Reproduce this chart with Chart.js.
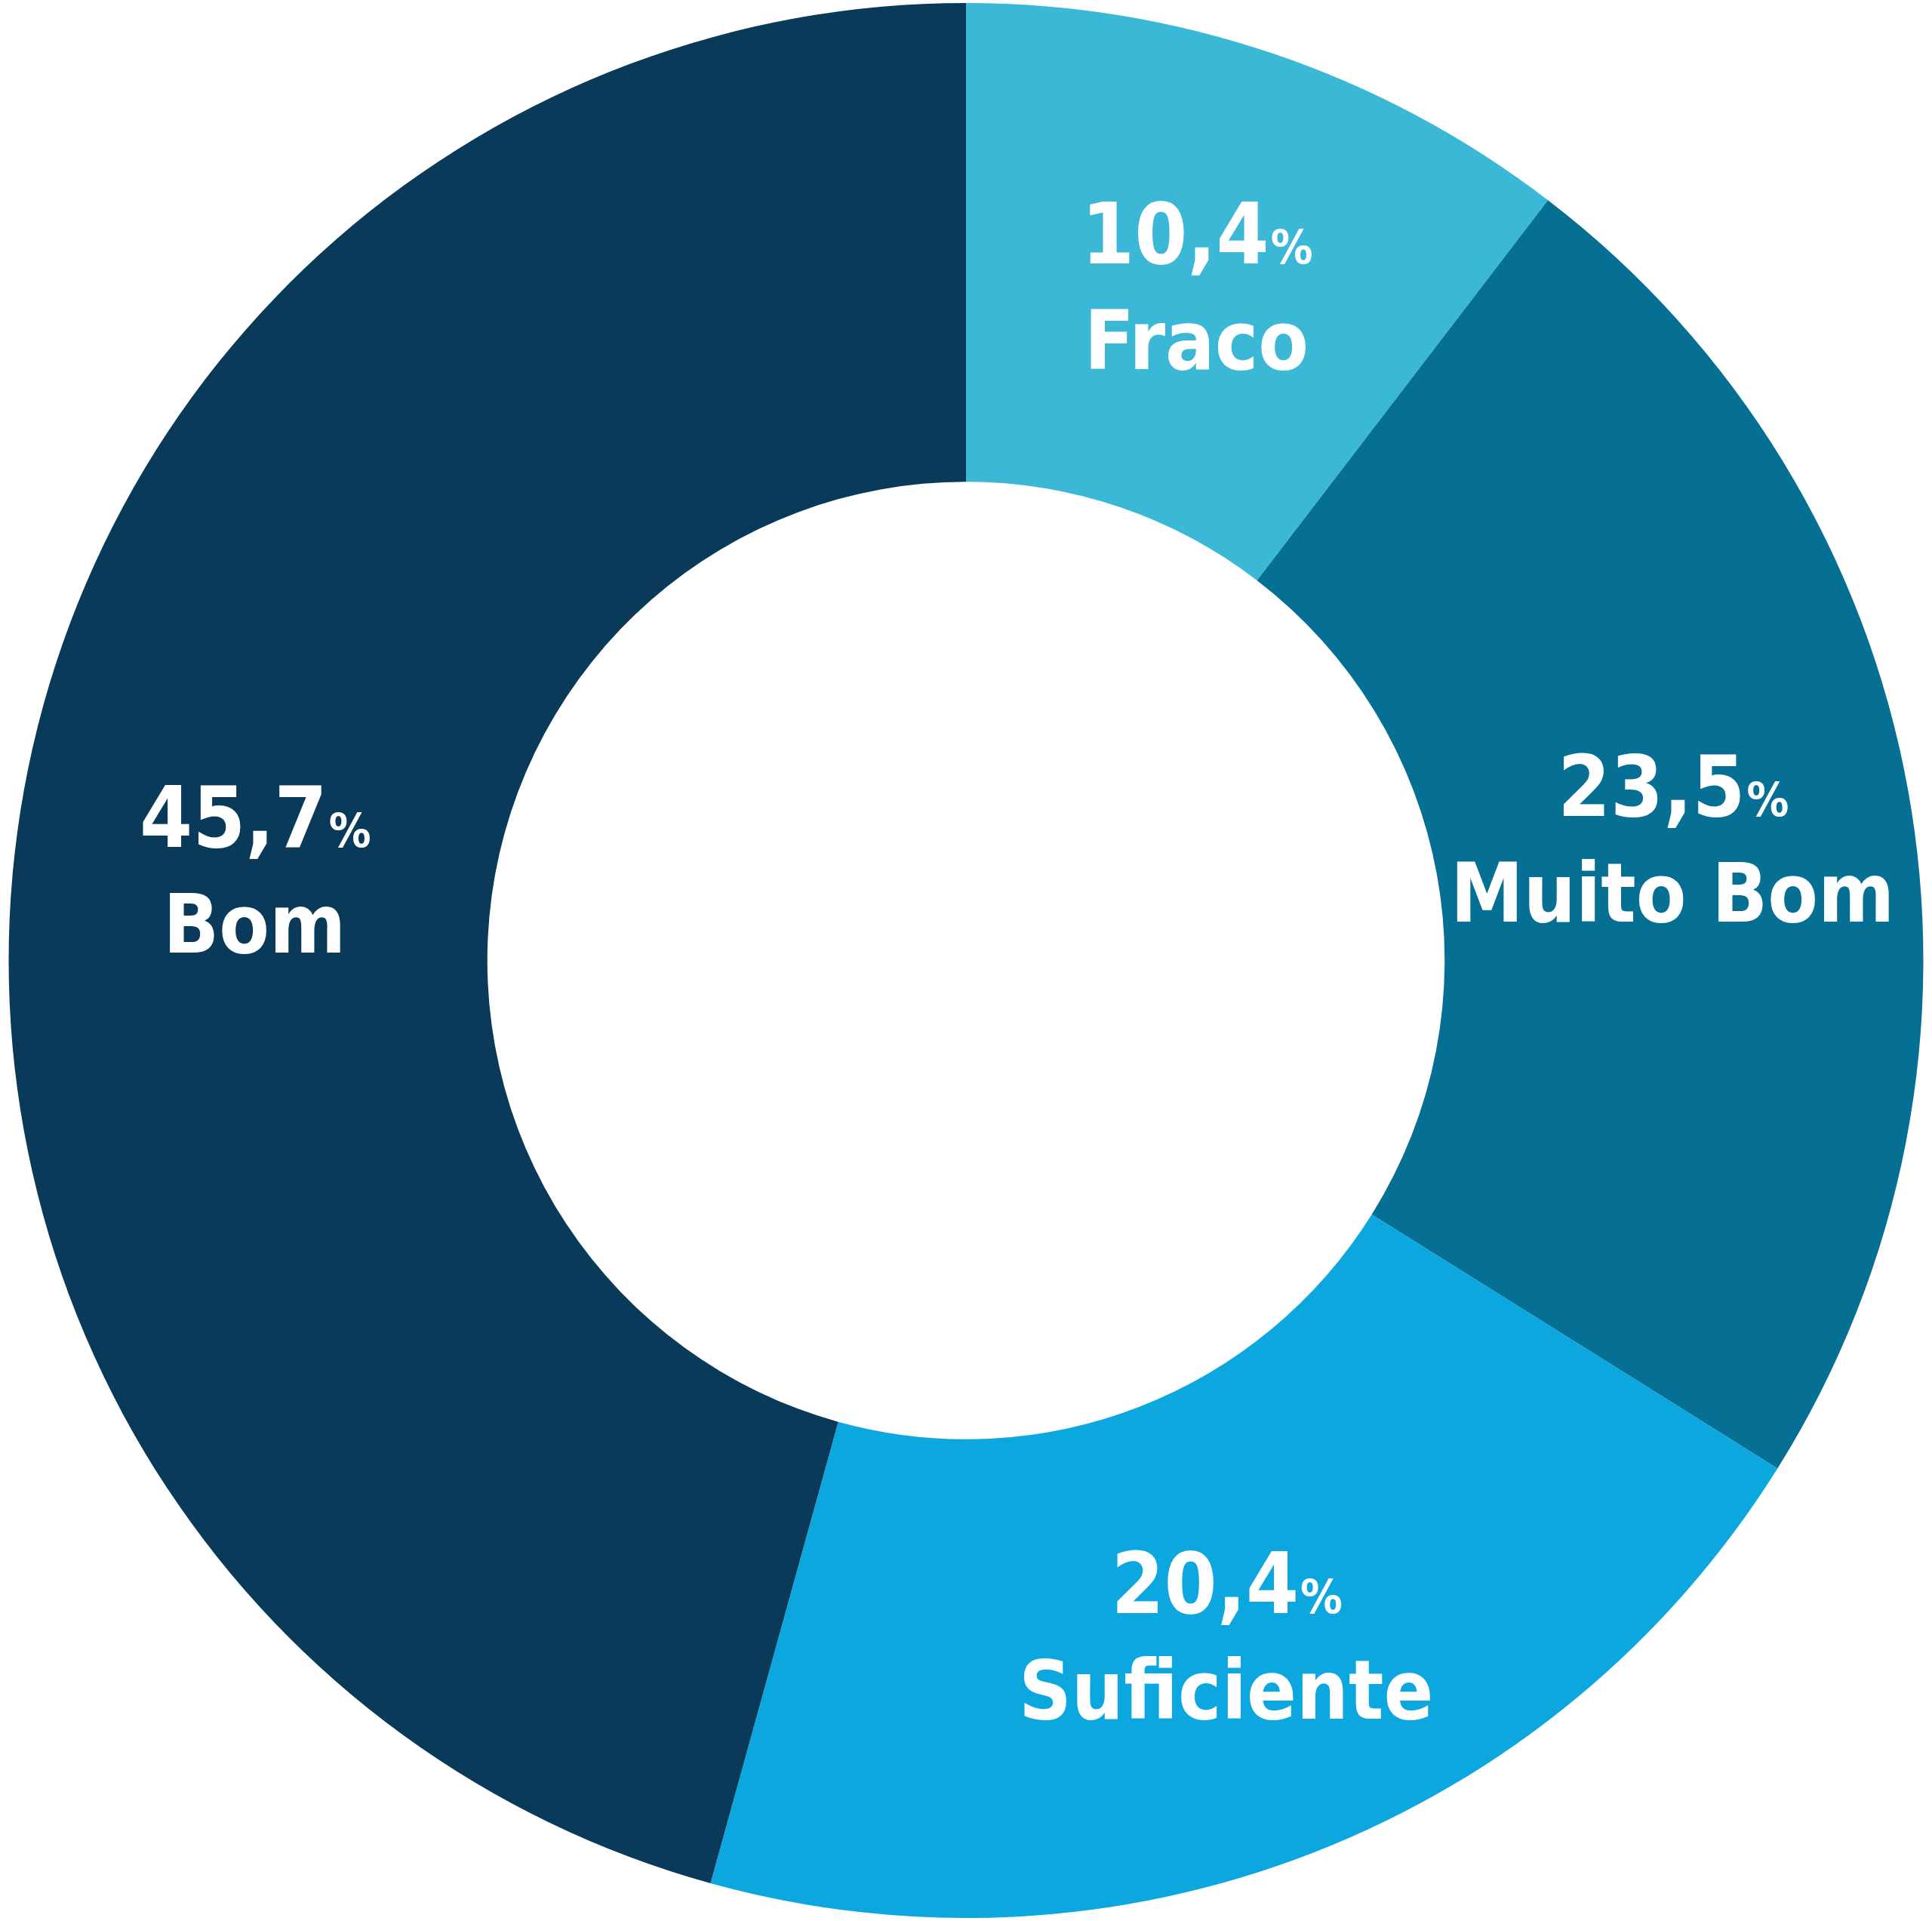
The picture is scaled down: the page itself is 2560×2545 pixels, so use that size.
<!DOCTYPE html>
<html lang="pt">
<head>
<meta charset="UTF-8">
<title>Avaliação</title>
<script src="https://cdn.jsdelivr.net/npm/chart.js"></script>
<style>
  html, body { margin: 0; padding: 0; background: #fff; }
  #chart { display: block; }
</style>
</head>
<body>
<canvas id="chart" width="2560" height="2545"></canvas>
<script>
const labels = ['Fraco', 'Muito Bom', 'Suficiente', 'Bom'];
const values = [10.4, 23.5, 20.4, 45.7];
const colors = ['#3ab8d5', '#066f94', '#0ba7de', '#0a3a5a'];

const fontFamily = '"Liberation Sans Narrow", "DejaVu Sans Condensed", "Roboto Condensed", sans-serif';

// draw "10,4%" and the label in the middle of each slice
const sliceLabels = {
  id: 'sliceLabels',
  afterDatasetsDraw(chart) {
    const ctx = chart.ctx;
    const meta = chart.getDatasetMeta(0);
    meta.data.forEach((arc, i) => {
      const pos = arc.tooltipPosition();
      const num = values[i].toFixed(1).replace('.', ',');
      ctx.save();
      ctx.fillStyle = '#ffffff';
      ctx.textBaseline = 'alphabetic';
      ctx.textAlign = 'left';
      const bigFont = 'bold 112px ' + fontFamily;
      const smallFont = 'bold 62px ' + fontFamily;
      ctx.font = bigFont;
      const w1 = ctx.measureText(num).width;
      ctx.font = smallFont;
      const w2 = ctx.measureText('%').width;
      const x0 = pos.x - (w1 + w2) / 2;
      const y1 = pos.y - 22;
      ctx.font = bigFont;
      ctx.fillText(num, x0, y1);
      ctx.font = smallFont;
      ctx.fillText('%', x0 + w1 + 2, y1);
      ctx.font = bold = 'bold 108px ' + fontFamily;
      ctx.textAlign = 'center';
      ctx.fillText(labels[i], pos.x, pos.y + 118);
      ctx.restore();
    });
  }
};

new Chart(document.getElementById('chart').getContext('2d'), {
  type: 'doughnut',
  data: {
    labels: labels,
    datasets: [{
      data: values,
      backgroundColor: colors,
      borderWidth: 0
    }]
  },
  options: {
    responsive: false,
    animation: false,
    cutout: '50%',
    layout: { padding: 4 },
    plugins: {
      legend: { display: false },
      tooltip: { enabled: false }
    }
  },
  plugins: [sliceLabels]
});
</script>
</body>
</html>
